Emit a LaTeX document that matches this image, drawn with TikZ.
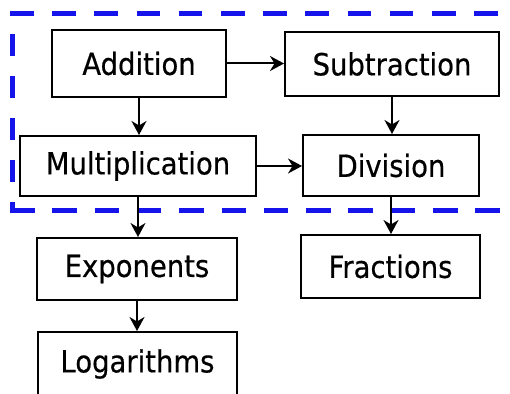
\documentclass[tikz,border=0pt]{standalone}
\usepackage{fontspec}
\setmainfont{DejaVu Sans}[FakeStretch=0.9,FakeBold=0.5]
\usetikzlibrary{arrows.meta}
\definecolor{groupblue}{RGB}{20,20,235}
\begin{document}
\begin{tikzpicture}[x=1pt,y=-1pt,
  box/.style={draw, line width=2pt, fill=white, inner sep=0pt,
              font=\fontsize{30.5}{36}\selectfont},
  conn/.style={line width=2pt, -{Stealth[length=14pt,width=15pt,inset=4.5pt]}},
  grp/.style={draw=groupblue, line width=5pt}]
\useasboundingbox (0,0) rectangle (510,393);

% dashed group frame (right side lies outside the picture)
\coordinate (gTL) at (10,14);
\coordinate (gTR) at (512,14);
\coordinate (gBL) at (10,210.5);
\coordinate (gBR) at (512,210.5);
\coordinate (gLT) at (12.5,14);
\coordinate (gLB) at (12.5,210.5);
\draw[grp, dash pattern=on 23.5pt off 18.7pt] (gTL) -- (gTR);
\draw[grp, dash pattern=on 24.5pt off 17.8pt] (gBL) -- (gBR);
\draw[grp, dash pattern=on 22pt off 20pt, dash phase=22pt] (gLT) -- (gLB);

% nodes
\node[box, minimum width=174pt, minimum height=67pt] (add) at (139,63.5) {Addition};
\node[box, minimum width=214pt, minimum height=64pt] (sub) at (392,64) {Subtraction};
\node[box, minimum width=236pt, minimum height=60pt] (mul) at (138,166) {Multiplication};
\node[box, minimum width=176pt, minimum height=61pt] (div) at (391,165.5) {Division};
\node[box, minimum width=200pt, minimum height=62pt] (exp) at (137,269) {Exponents};
\node[box, minimum width=179pt, minimum height=63pt] (fra) at (390.5,266.5) {Fractions};
\node[box, minimum width=199pt, minimum height=64pt] (log) at (137.5,364) {Logarithms};

% connectors
\draw[conn] (add.east) -- (add.east -| sub.west);
\draw[conn] (add.south) -- (add.south |- mul.north);
\draw[conn] (sub.south) -- (sub.south |- div.north);
\draw[conn] (mul.east) -- (mul.east -| div.west);
\draw[conn] (mul.south) -- (mul.south |- exp.north);
\draw[conn] (div.south) -- (div.south |- fra.north);
\draw[conn] (exp.south) -- (exp.south |- log.north);
\end{tikzpicture}
\end{document}
